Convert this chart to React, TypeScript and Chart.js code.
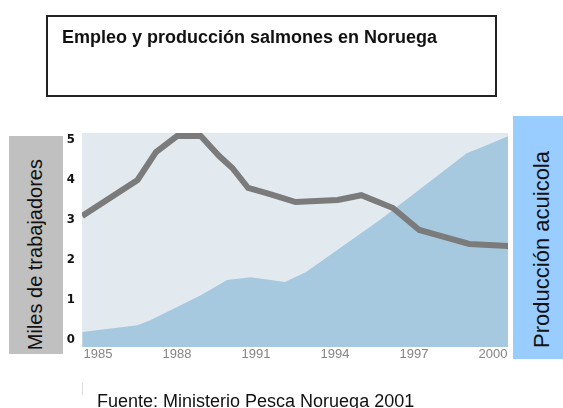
import React, { useEffect, useRef } from "react";
import { Chart, registerables } from "chart.js";

Chart.register(...registerables);

const empYears = [1984.4, 1986.5, 1987.2, 1988.0, 1988.9, 1989.6, 1990.1, 1990.7, 1991.4, 1991.9, 1992.5, 1994.1, 1995.0, 1996.2, 1997.2, 1997.9, 1999.1, 2000.6];
const empValues = [3.1, 4.0, 4.7, 5.1, 5.1, 4.6, 4.3, 3.8, 3.67, 3.57, 3.45, 3.5, 3.62, 3.3, 2.75, 2.62, 2.4, 2.35];

const prodYears = [1984.4, 1986.5, 1987.0, 1988.9, 1989.9, 1990.8, 1992.1, 1992.9, 1995.7, 1999.0, 1999.5, 2000.6];
const prodValues = [0.2, 0.37, 0.5, 1.12, 1.5, 1.57, 1.45, 1.7, 3.0, 4.67, 4.8, 5.1];

const xTickLabels = [1985, 1988, 1991, 1994, 1997, 2000];
const yTickLabels = [0, 1, 2, 3, 4, 5];

const titleText = "Empleo y producción salmones en Noruega";
const leftLabel = "Miles de trabajadores";
const rightLabel = "Producción acuicola";
const sourceText = "Fuente: Ministerio Pesca Noruega 2001";

const plotBg = {
  id: "plotBg",
  beforeDraw(chart: any) {
    const { ctx, chartArea } = chart;
    if (!chartArea) return;
    ctx.save();
    ctx.fillStyle = "#e2eaf0";
    ctx.fillRect(chartArea.left, chartArea.top, chartArea.right - chartArea.left, chartArea.bottom - chartArea.top);
    ctx.restore();
  },
};

const vText = (extra: React.CSSProperties): React.CSSProperties => ({
  position: "absolute",
  writingMode: "vertical-rl",
  transform: "rotate(180deg)",
  color: "#111",
  whiteSpace: "nowrap",
  lineHeight: 1.15,
  ...extra,
});

export default function App() {
  const ref = useRef<HTMLCanvasElement | null>(null);

  useEffect(() => {
    if (!ref.current) return;
    const chart = new Chart(ref.current, {
      type: "line",
      data: {
        datasets: [
          {
            label: "Empleo",
            data: empYears.map((x, i) => ({ x, y: empValues[i] })),
            borderColor: "#7b7b7b",
            borderWidth: 6,
            pointRadius: 0,
            fill: false,
            tension: 0,
            order: 0,
          },
          {
            label: "Producción",
            data: prodYears.map((x, i) => ({ x, y: prodValues[i] })),
            borderWidth: 0,
            borderColor: "rgba(0,0,0,0)",
            backgroundColor: "#a6c9df",
            pointRadius: 0,
            fill: "start",
            tension: 0,
            order: 1,
          },
        ],
      },
      options: {
        animation: false,
        responsive: false,
        devicePixelRatio: 1,
        layout: { padding: { top: 133, right: 55, bottom: 41, left: 0 } },
        plugins: { legend: { display: false }, tooltip: { enabled: false }, title: { display: false } },
        scales: {
          x: {
            type: "linear",
            min: 1984.39,
            max: 2000.57,
            grid: { display: false, drawTicks: false },
            border: { display: false },
            afterBuildTicks: (scale: any) => {
              scale.ticks = xTickLabels.map((v) => ({ value: v }));
            },
            afterFit: (scale: any) => {
              scale.height = 20;
            },
            ticks: {
              padding: 0,
              color: "#858585",
              font: { family: "Liberation Sans", size: 13 },
              callback: (v: any) => String(v),
              maxRotation: 0,
              autoSkip: false,
            },
          },
          y: {
            type: "linear",
            min: -0.175,
            max: 5.175,
            grid: { display: false, drawTicks: false },
            border: { display: false },
            afterBuildTicks: (scale: any) => {
              scale.ticks = yTickLabels.map((v) => ({ value: v }));
            },
            afterFit: (scale: any) => {
              scale.width = 82;
            },
            ticks: {
              padding: 7,
              color: "#111",
              font: { family: "'Liberation Sans Narrow', 'DejaVu Sans Condensed', 'Liberation Sans', sans-serif", size: 13, weight: "bold" },
              callback: (v: any) => String(v),
            },
          },
        },
      },
      plugins: [plotBg],
    } as any);
    return () => chart.destroy();
  }, []);

  return (
    <div style={{ position: "absolute", left: 0, top: 0, width: 563, height: 408, overflow: "hidden", background: "#fff", fontFamily: "'Liberation Sans', Arial, sans-serif" }}>
      <canvas ref={ref} width={563} height={408} style={{ position: "absolute", left: 0, top: 0, width: 563, height: 408 }} />
      <div style={{ position: "absolute", left: 46, top: 15, width: 447, height: 78, border: "2px solid #222", boxSizing: "content-box" }} />
      <div style={{ position: "absolute", left: 62, top: 27, fontSize: 18, lineHeight: 1.15, fontWeight: "bold", color: "#111", whiteSpace: "nowrap" }}>{titleText}</div>
      <div style={{ position: "absolute", left: 9, top: 136, width: 54, height: 218, background: "#c0c0c0" }} />
      <div style={vText({ left: 24, bottom: 58, fontSize: 20 })}>{leftLabel}</div>
      <div style={{ position: "absolute", left: 513, top: 116, width: 50, height: 243, background: "#99ccff" }} />
      <div style={vText({ left: 529, bottom: 60, fontSize: 22 })}>{rightLabel}</div>
      <div style={{ position: "absolute", left: 82, top: 383, width: 1, height: 12, background: "#dddddd" }} />
      <div style={{ position: "absolute", left: 97, top: 391, fontSize: 18, lineHeight: 1.15, color: "#111", whiteSpace: "nowrap" }}>{sourceText}</div>
    </div>
  );
}
